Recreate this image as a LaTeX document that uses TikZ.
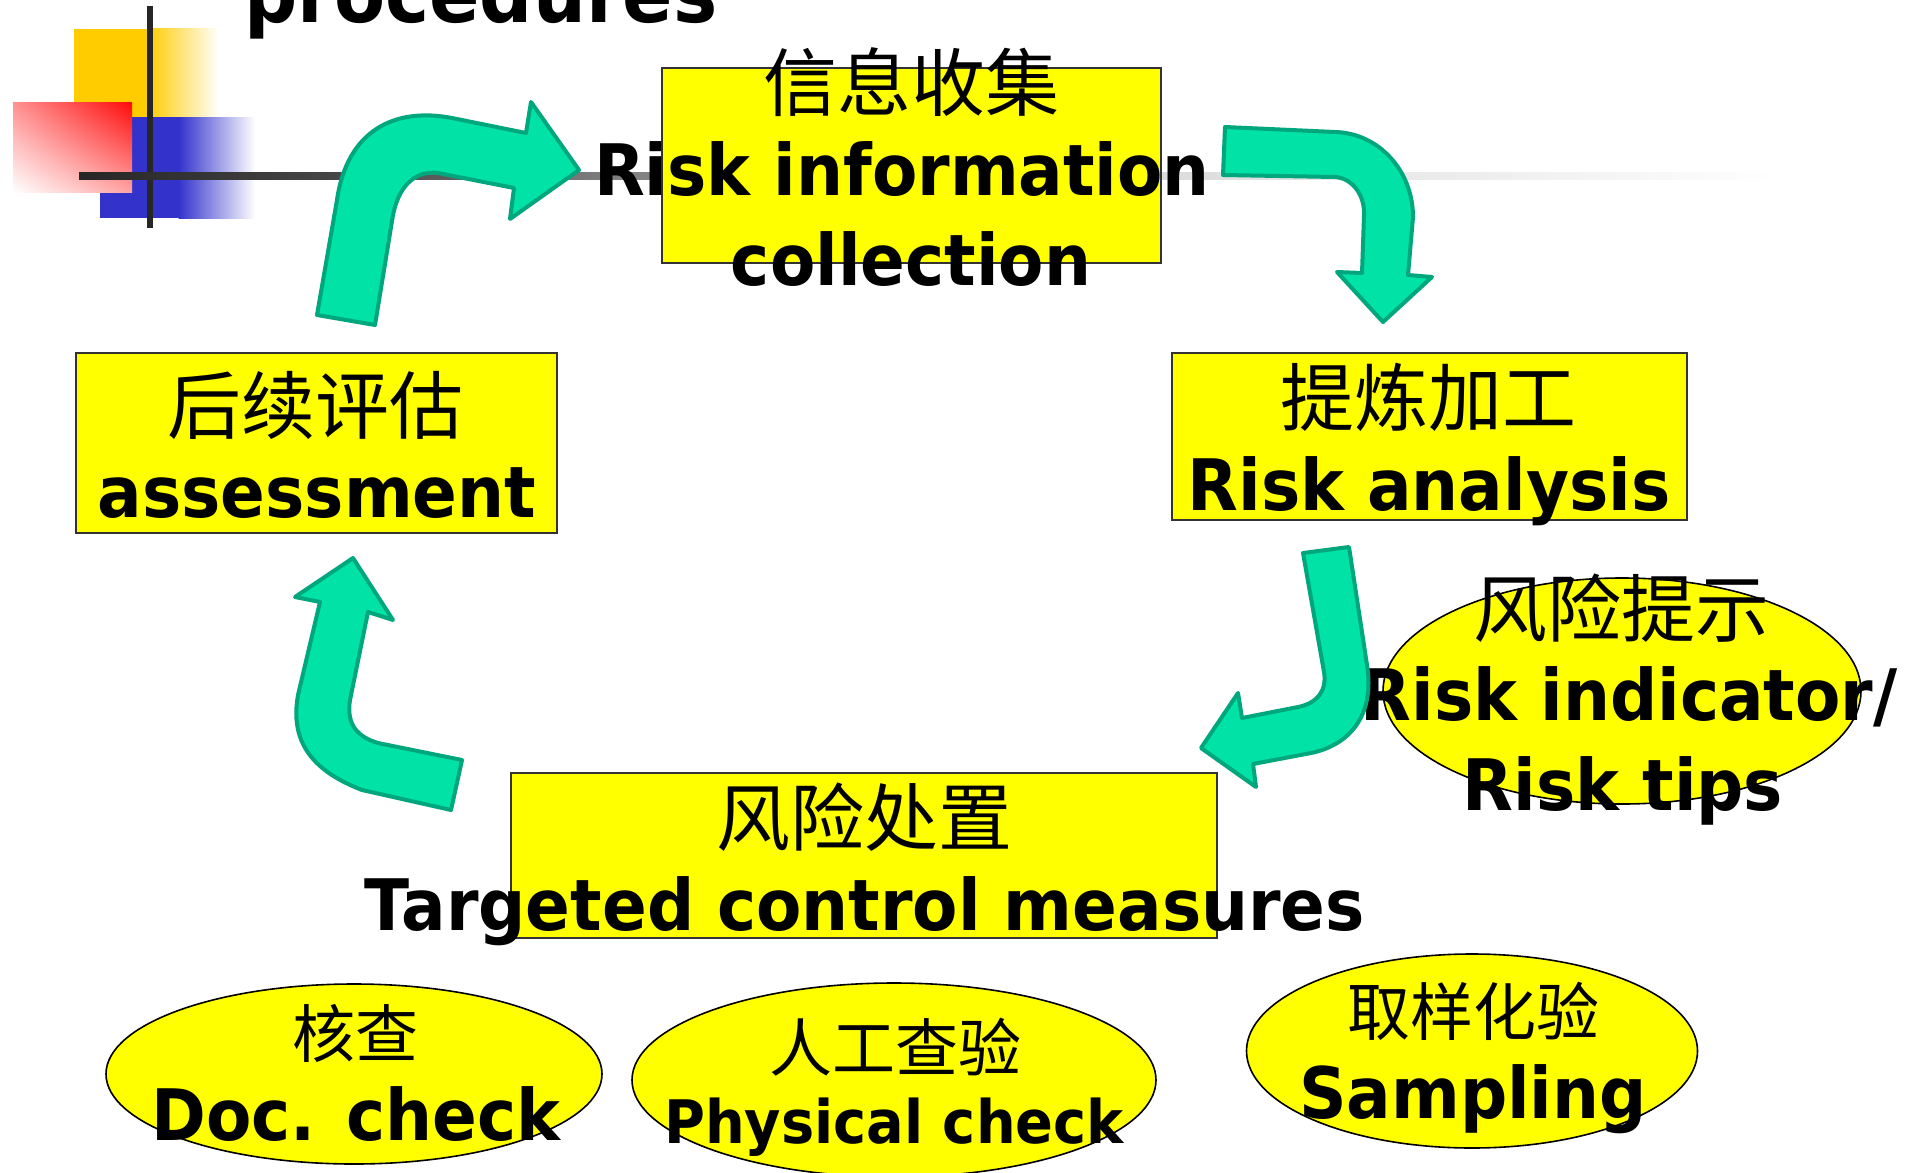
\documentclass[tikz,border=0pt]{standalone}
\usepackage{fontspec}
\usetikzlibrary{shapes.geometric,shadings}
\newfontfamily\lat[FakeStretch=0.93]{DejaVu Sans}
\newfontfamily\cjk{Noto Sans CJK SC}
\definecolor{arrowfill}{RGB}{0,226,166}
\definecolor{arrowline}{RGB}{0,166,124}
\definecolor{boxyellow}{RGB}{255,255,0}
\definecolor{sqyellow}{RGB}{255,204,0}
\definecolor{sqblue}{RGB}{51,51,204}
\definecolor{sqred}{RGB}{255,10,10}
\tikzset{
  box/.style={draw=black!80, line width=2pt, fill=boxyellow, inner sep=0pt, outer sep=0pt},
  oval/.style={ellipse, draw=black, line width=1.6pt, fill=boxyellow, inner sep=0pt, outer sep=0pt},
  en/.style={font=\lat\bfseries\fontsize{71}{71}\selectfont, anchor=base, inner sep=0pt},
  enmid/.style={font=\lat\bfseries\fontsize{60}{60}\selectfont, anchor=base, inner sep=0pt},
  entitle/.style={font=\lat\bfseries\fontsize{80}{80}\selectfont, anchor=base, inner sep=0pt},
  zh/.style={font=\cjk\fontsize{74}{74}\selectfont, inner sep=0pt},
  zhs/.style={font=\cjk\fontsize{63}{63}\selectfont, inner sep=0pt},
  blockarrow/.style={fill=arrowfill, draw=arrowline, line width=4pt, line join=round},
}
\begin{document}
\begin{tikzpicture}[x=1pt,y=-1pt]
\useasboundingbox (0,0) rectangle (1913,1172);
\fill[white] (0,0) rectangle (1913,1172);

% corner decoration
\fill[sqyellow] (74,29) rectangle (148,117);
\shade[left color=sqyellow, right color=white] (147.5,29) rectangle (219,117);
\fill[sqblue] (100,117) rectangle (179,218);
\shade[left color=sqblue, right color=white] (178.5,117) rectangle (255,218);
\shade[upper right=sqred, upper left=sqred!45!white, lower right=sqred!38!white, lower left=white] (13,102) rectangle (132,192);
\draw[line width=6pt, black!85] (150,6) -- (150,228);
\shade[left color=black!85, right color=black!73] (79,172.5) rectangle (330.5,179.5);
\shade[left color=black!73, right color=black!53] (330,172.5) rectangle (580.5,179.5);
\shade[left color=black!53, right color=black!14] (580,172.5) rectangle (1160.5,179.5);
\shade[left color=black!14, right color=white] (1160,172.5) rectangle (1780,179.5);

% title fragment
\node[entitle] (title) at (481,23) {procedures};

% boxes
\node[box, minimum width=499pt, minimum height=195pt] (collect) at (911.5,165.5) {};
\node[box, minimum width=515pt, minimum height=167pt] (analysis) at (1429.5,436.5) {};
\node[box, minimum width=481pt, minimum height=180pt] (assess) at (316.5,443) {};
\node[box, minimum width=706pt, minimum height=165pt] (measures) at (864,855.5) {};

% ellipses
\node[oval, minimum width=478pt, minimum height=226pt] (tips) at (1622,691) {};
\node[oval, minimum width=496pt, minimum height=180pt] (doc) at (354,1074) {};
\node[oval, minimum width=524pt, minimum height=194pt] (phys) at (894,1080) {};
\node[oval, minimum width=451pt, minimum height=194pt] (samp) at (1472,1051) {};

% texts
\node[zh] (collectzh) at (911,82) {信息收集};
\node[en] (collecten1) at (902,195) {Risk information};
\node[en] (collecten2) at (911,285) {collection};

\node[zh] (analysiszh) at (1428,397) {提炼加工};
\node[en] (analysisen) at (1429,510) {Risk analysis};

\node[zh] (assesszh) at (315,405) {后续评估};
\node[en] (assessen) at (317,517) {assessment};

\node[zh] (tipszh) at (1621,608) {风险提示};
\node[en] (tipsen1) at (1629,720) {Risk indicator/};
\node[en] (tipsen2) at (1623,810) {Risk tips};

\node[zh] (measureszh) at (864,817) {风险处置};
\node[en] (measuresen) at (865,930) {Targeted control measures};

\node[zhs] (doczh) at (355,1033) {核查};
\node[en] (docen) at (356,1140) {Doc. check};
\node[zhs] (physzh) at (895,1047) {人工查验};
\node[enmid] (physen) at (894,1143) {Physical check};
\node[zhs] (sampzh) at (1473,1011) {取样化验};
\node[en] (sampen) at (1473,1118) {Sampling};

% block arrows
\draw[blockarrow] (317,315) -- (375,325) -- (393,215)
  .. controls (398,190) and (412,170) .. (438,173)
  -- (514,188) -- (510,219) -- (579,170) -- (531,102) -- (526,133) -- (452,118)
  .. controls (395,107) and (347,130) .. (337,200) -- cycle;

\draw[blockarrow] (1225,127) -- (1335,132)
  .. controls (1378,133) and (1413,170) .. (1413,217)
  -- (1408,275) -- (1432,277) -- (1383,322) -- (1337,272) -- (1362,273) -- (1364,215)
  .. controls (1365,195) and (1352,178) .. (1335,177) -- (1223,175) -- cycle;

\draw[blockarrow] (1303,553) -- (1349,547) -- (1367,665)
  .. controls (1375,715) and (1350,745) .. (1311,753)
  -- (1253,764) -- (1256,787) -- (1201,748) -- (1238,693) -- (1242,718) -- (1298,707)
  .. controls (1318,703) and (1327,690) .. (1324,672) -- cycle;

\draw[blockarrow] (353,558) -- (393,620) -- (368,612) -- (350,700)
  .. controls (346,725) and (358,737) .. (378,743)
  -- (462,760) -- (451,810) -- (362,790)
  .. controls (310,770) and (290,740) .. (298,695)
  -- (320,602) -- (295,597) -- cycle;
\end{tikzpicture}
\end{document}
